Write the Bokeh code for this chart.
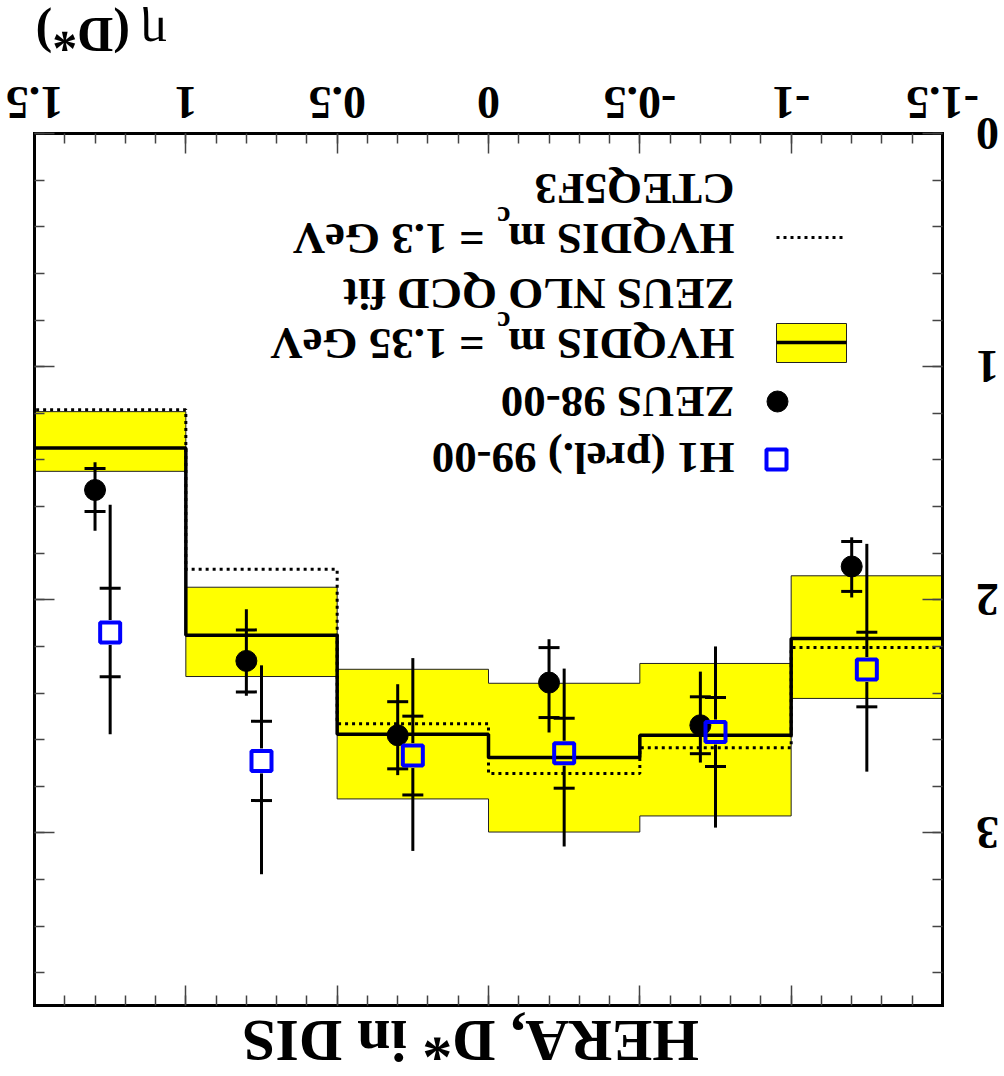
import math
import numpy as np
from bokeh.plotting import figure
from bokeh.models import Range1d, LinearAxis, FixedTicker, Label, LabelSet, ColumnDataSource
from bokeh.core.properties import value
from bokeh.embed import file_html
from bokeh.resources import INLINE

# ---------------- data ----------------
bin_edges = [-1.5, -1.0, -0.5, 0.0, 0.5, 1.0, 1.5]
hvqdis_135 = [2.166, 2.581, 2.676, 2.577, 2.152, 1.349]
band_lo = [1.897, 2.273, 2.358, 2.298, 1.946, 1.193]
band_hi = [2.423, 2.927, 2.996, 2.854, 2.329, 1.449]
hvqdis_13 = [2.205, 2.635, 2.745, 2.532, 1.869, 1.185]

zeus_x = [-1.2, -0.7, -0.2, 0.3, 0.8, 1.3]
zeus_y = [1.857, 2.538, 2.355, 2.581, 2.262, 1.529]
zeus_stat = [0.107, 0.122, 0.150, 0.144, 0.133, 0.092]
zeus_tot_dn = [0.125, 0.230, 0.186, 0.219, 0.221, 0.119]
zeus_tot_up = [0.133, 0.160, 0.214, 0.171, 0.150, 0.175]

h1_x = [-1.25, -0.75, -0.25, 0.25, 0.75, 1.25]
h1_y = [2.299, 2.567, 2.658, 2.668, 2.691, 2.140]
h1_stat = [0.160, 0.148, 0.150, 0.169, 0.170, 0.190]
h1_tot_dn = [0.539, 0.367, 0.363, 0.418, 0.410, 0.548]
h1_tot_up = [0.438, 0.410, 0.400, 0.409, 0.486, 0.437]

x_ticks = [-1.5, -1.0, -0.5, 0.0, 0.5, 1.0, 1.5]
x_tick_labels = ["-1.5", "-1", "-0.5", "0", "0.5", "1", "1.5"]
y_ticks = [0, 1, 2, 3]
y_tick_labels = ["0", "1", "2", "3"]

x_title_sym = "\u03b7"
x_title_rest = "(D*)"
plot_title = "HERA, D* in DIS"

# ---------------- layout ----------------
W, H = 1000, 1076
FL, FT, FR, FB = 34, 133, 942, 1005      # visible frame in canvas pixels
XMIN, XMAX = -1.5, 1.5
YMAX = 3.74
FONT = "Liberation Serif"
ROT = math.pi


def xd(px):
    return XMAX - (px - FL) * (XMAX - XMIN) / (FR - FL)


def yd(py):
    return (py - FT) * YMAX / (FB - FT)


# the plotting frame covers the whole canvas; the visible box is drawn by fixed-location axes
p = figure(width=W, height=H, x_range=Range1d(xd(0), xd(W)), y_range=Range1d(yd(H), yd(0)),
           x_axis_location=None, y_axis_location=None,
           output_backend="svg", toolbar_location=None, min_border=0)
p.xgrid.visible = False
p.ygrid.visible = False
p.background_fill_color = "white"
p.border_fill_color = "white"
p.outline_line_color = None

x_minor = [round(v, 2) for v in np.arange(XMIN, XMAX + 0.001, 0.1)]
y_minor = [round(v, 2) for v in np.arange(0, YMAX, 0.2)]


def make_axis(ticks, minor, loc, bounds):
    ax = LinearAxis(ticker=FixedTicker(ticks=ticks, minor_ticks=minor),
                    fixed_location=loc, bounds=bounds)
    ax.axis_line_color = "black"
    ax.axis_line_width = 3
    ax.axis_line_cap = "square"
    ax.major_tick_in = 20
    ax.major_tick_out = 0
    ax.minor_tick_in = 10
    ax.minor_tick_out = 0
    ax.major_tick_line_color = "#444444"
    ax.minor_tick_line_color = "#444444"
    ax.major_tick_line_width = 1.5
    ax.minor_tick_line_width = 1.5
    ax.major_label_text_color = None
    ax.major_label_text_alpha = 0
    return ax


p.add_layout(make_axis(x_ticks, x_minor, 0, (XMIN, XMAX)), "above")
p.add_layout(make_axis(x_ticks, x_minor, YMAX, (XMIN, XMAX)), "below")
p.add_layout(make_axis(y_ticks, y_minor, XMIN, (0, YMAX)), "right")
p.add_layout(make_axis(y_ticks, y_minor, XMAX, (0, YMAX)), "left")

# ---------------- band ----------------
ex = np.repeat(np.array(bin_edges), 2)[1:-1]
patch_x = np.concatenate([ex, ex[::-1]])
patch_y = np.concatenate([np.repeat(band_lo, 2), np.repeat(band_hi, 2)[::-1]])
p.patch(patch_x, patch_y, fill_color="#ffff00", line_color="#222222", line_width=1)

# ---------------- theory step lines ----------------
p.step(bin_edges, hvqdis_13 + [hvqdis_13[-1]], mode="after",
       line_color="black", line_width=3, line_dash="3 4")
p.step(bin_edges, hvqdis_135 + [hvqdis_135[-1]], mode="after",
       line_color="black", line_width=3.5)

# ---------------- ZEUS points ----------------
zy = np.array(zeus_y)
p.segment(zeus_x, zy - np.array(zeus_tot_dn), zeus_x, zy + np.array(zeus_tot_up),
          line_color="black", line_width=3)
p.scatter(zeus_x, zy - np.array(zeus_stat), marker="dash", size=21, line_width=3, line_color="black")
p.scatter(zeus_x, zy + np.array(zeus_stat), marker="dash", size=21, line_width=3, line_color="black")
p.scatter(zeus_x, zeus_y, marker="circle", size=21, fill_color="black", line_color="black")

# ---------------- H1 points ----------------
hy = np.array(h1_y)
gap = 12.5 * YMAX / (FB - FT)
p.segment(h1_x, hy - np.array(h1_tot_dn), h1_x, hy - gap, line_color="black", line_width=3)
p.segment(h1_x, hy + gap, h1_x, hy + np.array(h1_tot_up), line_color="black", line_width=3)
p.scatter(h1_x, hy - np.array(h1_stat), marker="dash", size=21, line_width=3, line_color="black")
p.scatter(h1_x, hy + np.array(h1_stat), marker="dash", size=21, line_width=3, line_color="black")
p.scatter(h1_x, h1_y, marker="square", size=20, fill_color=None, line_color="#0000ff", line_width=4)

# ---------------- legend (hand-built, upside-down) ----------------
p.quad(left=xd(776), right=xd(846), top=yd(323), bottom=yd(362),
       fill_color="#ffff00", line_color="#222222", line_width=1)
p.segment(xd(776), yd(342), xd(846), yd(342), line_color="black", line_width=3.5)
p.segment(xd(776), yd(237), xd(846), yd(237), line_color="black", line_width=3, line_dash="3 4")
p.scatter([xd(777)], [yd(401)], marker="circle", size=21, fill_color="black", line_color="black")
p.scatter([xd(776)], [yd(459)], marker="square", size=20, fill_color="white",
          line_color="#0000ff", line_width=4)


def label(text, px, py, size="45px", align="left", style="bold"):
    p.add_layout(Label(x=xd(px), y=yd(py), text=text, angle=ROT, text_font=FONT,
                       text_font_style=style, text_font_size=size, text_align=align,
                       text_baseline="middle", text_color="black"))


LX = 734
label("H1 (prel.) 99-00", LX, 457)
label("ZEUS 98-00", LX, 401)
label("HVQDIS m", LX, 343)
label("c", 510, 322, size="30px")
label("= 1.35 GeV", 484, 343)
label("ZEUS NLO QCD fit", LX, 293)
label("HVQDIS m", LX, 238)
label("c", 510, 217, size="30px")
label("= 1.3 GeV", 484, 238)
label("CTEQ5F3", LX, 188)

# axis title and plot title
label(x_title_rest, 35, 34, size="50px", align="right")
label(x_title_sym, 140, 34, size="50px", align="right", style="normal")
label(plot_title, 470, 1040, size="60px", align="center")

# tick labels (upside-down)
xs = ColumnDataSource(dict(x=x_ticks, y=[yd(102)] * len(x_ticks), t=x_tick_labels))
p.add_layout(LabelSet(x="x", y="y", text="t", source=xs, angle=ROT, text_color="black",
                      text_font=value(FONT), text_font_style="bold", text_font_size="46px",
                      text_align="center", text_baseline="middle"))
ys = ColumnDataSource(dict(x=[xd(987)] * len(y_ticks), y=y_ticks, t=y_tick_labels))
p.add_layout(LabelSet(x="x", y="y", text="t", source=ys, angle=ROT, text_color="black",
                      text_font=value(FONT), text_font_style="bold", text_font_size="46px",
                      text_align="center", text_baseline="middle"))

open("out.html", "w").write(file_html(p, INLINE))
